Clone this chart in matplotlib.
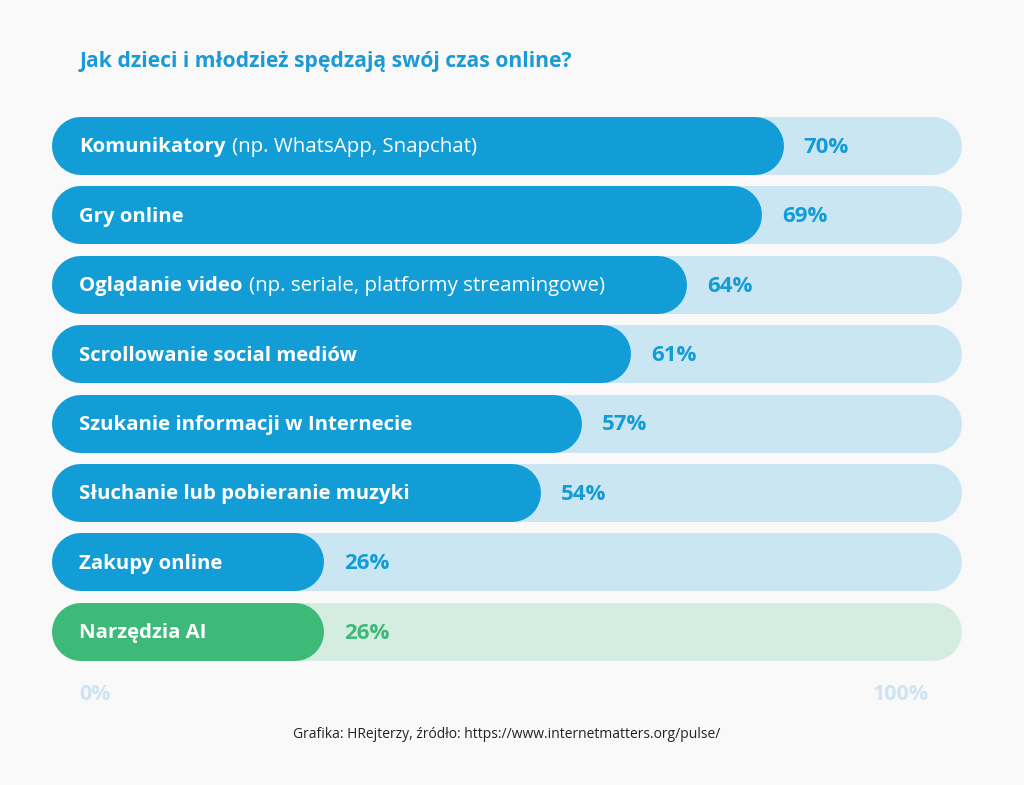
import matplotlib
matplotlib.use("Agg")
import matplotlib.pyplot as plt

plt.rcParams["font.family"] = ["Open Sans", "DejaVu Sans"]

# --- data ---
labels_bold = ["Komunikatory", "Gry online", "Oglądanie video", "Scrollowanie social mediów",
               "Szukanie informacji w Internecie", "Słuchanie lub pobieranie muzyki",
               "Zakupy online", "Narzędzia AI"]
labels_note = ["(np. WhatsApp, Snapchat)", "", "(np. seriale, platformy streamingowe)",
               "", "", "", "", ""]
values = [70, 69, 64, 61, 57, 54, 26, 26]
# the graphic is not drawn to scale: filled share of each track as it appears
bar_fill = [80.4, 78.0, 69.8, 63.6, 58.2, 53.7, 29.9, 29.9]
is_ai = [False, False, False, False, False, False, False, True]

title = "Jak dzieci i młodzież spędzają swój czas online?"
footer = "Grafika: HRejterzy, źródło: https://www.internetmatters.org/pulse/"

BG = "#f9f9f9"
BLUE, BLUE_TRACK = "#129dd7", "#cbe6f3"
GREEN, GREEN_TRACK = "#3dba78", "#d4ede0"
AXIS_LBL = "#cfe4f2"

W, H, DPI = 1024, 785, 100
fig = plt.figure(figsize=(W / DPI, H / DPI), dpi=DPI, facecolor=BG)

# axes: x 0..100 spans the track (52..962 px); rows 69.4 px apart, first centred at 146 px
pitch = 69.4
top_px = 146 - pitch / 2
bot_px = top_px + pitch * 9
ax = fig.add_axes([52 / W, 1 - bot_px / H, 910 / W, (bot_px - top_px) / H])
ax.set_xlim(0, 100)
ax.set_ylim(8.5, -0.5)
ax.axis("off")
ax.set_facecolor(BG)

bar_px = 58
lw = bar_px * 72 / DPI
r = (bar_px / 2) * 100 / 910  # cap radius in data units

for i, (b, n, v, f, ai) in enumerate(zip(labels_bold, labels_note, values, bar_fill, is_ai)):
    c, ct = (GREEN, GREEN_TRACK) if ai else (BLUE, BLUE_TRACK)
    ax.plot([r, 100 - r], [i, i], color=ct, lw=lw, solid_capstyle="round", zorder=1)
    ax.plot([r, f - r], [i, i], color=c, lw=lw, solid_capstyle="round", zorder=2)
    t = ax.text(3.0, i + 0.02, b, color="white", fontsize=14.7, fontweight="bold",
                va="center", ha="left", zorder=3)
    if n:
        ax.annotate(n, xy=(1, 0), xycoords=t, xytext=(4.5, 0), textcoords="offset points",
                    color="white", fontsize=14.75, va="bottom", ha="left", zorder=3)
    ax.text(f + 2.2, i + 0.02, f"{v}%", color=c, fontsize=16, fontweight="bold",
            va="center", ha="left", zorder=3)

ax.text(3.0, 7.9, "0%", color=AXIS_LBL, fontsize=15.5, fontweight="bold", va="center", ha="left")
ax.text(96.4, 7.9, "100%", color=AXIS_LBL, fontsize=15.5, fontweight="bold", va="center", ha="right")

fig.text(80 / W, 1 - 62 / H, title, color="#1a9ad6", fontsize=15.25, fontweight="bold",
         va="center", ha="left")
fig.text(507 / W, 1 - 735 / H, footer, color="#222222", fontsize=10, va="center", ha="center")

fig.savefig("out.png", dpi=DPI, facecolor=BG)
